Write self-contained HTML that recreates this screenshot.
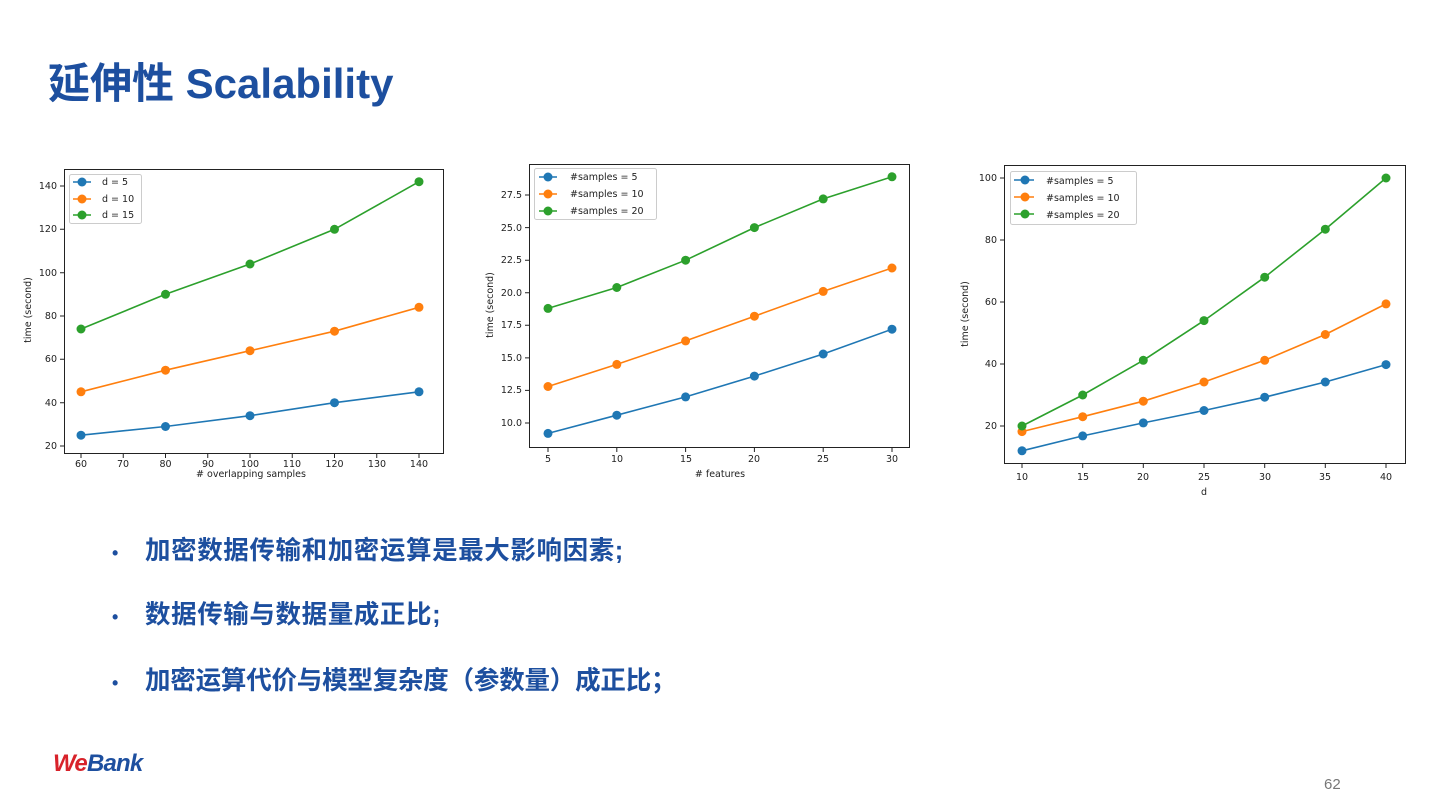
<!DOCTYPE html>
<html><head><meta charset="utf-8"><style>
body{margin:0;width:1440px;height:810px;background:#fff;overflow:hidden;font-family:"Liberation Sans","Noto Sans CJK SC",sans-serif;position:relative}
.t{position:absolute;left:48px;top:50px;font-size:42px;font-weight:bold;color:#1d4f9f}
.b{position:absolute;left:112px;font-size:25.5px;font-weight:bold;color:#1d4f9f;letter-spacing:0.6px}
.b span{display:inline-block;width:33px;font-size:18px;letter-spacing:0}
.pg{position:absolute;left:1324px;top:776px;font-size:15px;color:#777}
.logo{position:absolute;left:53px;top:750px;font-size:24px;font-weight:900;font-style:italic;letter-spacing:-0.8px}
</style></head><body>
<div class="t">延伸性 Scalability</div>
<div class="b" style="top:530px"><span>•</span>加密数据传输和加密运算是最大影响因素;</div>
<div class="b" style="top:594px"><span>•</span>数据传输与数据量成正比;</div>
<div class="b" style="top:660px;letter-spacing:-0.2px"><span>•</span>加密运算代价与模型复杂度（参数量）成正比；</div>
<div class="logo"><span style="color:#d8222a">We</span><span style="color:#1d4f9f">Bank</span></div>
<div class="pg">62</div>
<svg width="1440" height="810" style="position:absolute;left:0;top:0" font-family="DejaVu Sans, sans-serif" font-size="10" fill="#222">
<defs>
<marker id="mb" markerWidth="10" markerHeight="10" refX="5" refY="5" markerUnits="userSpaceOnUse"><circle cx="5" cy="5" r="4.5" fill="#1f77b4"/></marker>
<marker id="mo" markerWidth="10" markerHeight="10" refX="5" refY="5" markerUnits="userSpaceOnUse"><circle cx="5" cy="5" r="4.5" fill="#ff7f0e"/></marker>
<marker id="mg" markerWidth="10" markerHeight="10" refX="5" refY="5" markerUnits="userSpaceOnUse"><circle cx="5" cy="5" r="4.5" fill="#2ca02c"/></marker>
</defs>
<g fill="none" stroke-width="1.6">
<polyline stroke="#1f77b4" marker-start="url(#mb)" marker-mid="url(#mb)" marker-end="url(#mb)" points="81,435.2 165.5,426.5 250,415.7 334.5,402.7 419,391.8"/>
<polyline stroke="#ff7f0e" marker-start="url(#mo)" marker-mid="url(#mo)" marker-end="url(#mo)" points="81,391.8 165.5,370.2 250,350.7 334.5,331.2 419,307.3"/>
<polyline stroke="#2ca02c" marker-start="url(#mg)" marker-mid="url(#mg)" marker-end="url(#mg)" points="81,329 165.5,294.3 250,264 334.5,229.3 419,181.7"/>
<polyline stroke="#1f77b4" marker-start="url(#mb)" marker-mid="url(#mb)" marker-end="url(#mb)" points="548,433.4 616.8,415.2 685.6,396.9 754.4,376.1 823.2,354 892,329.2"/>
<polyline stroke="#ff7f0e" marker-start="url(#mo)" marker-mid="url(#mo)" marker-end="url(#mo)" points="548,386.5 616.8,364.4 685.6,340.9 754.4,316.2 823.2,291.4 892,268"/>
<polyline stroke="#2ca02c" marker-start="url(#mg)" marker-mid="url(#mg)" marker-end="url(#mg)" points="548,308.4 616.8,287.5 685.6,260.2 754.4,227.6 823.2,198.9 892,176.8"/>
<polyline stroke="#1f77b4" marker-start="url(#mb)" marker-mid="url(#mb)" marker-end="url(#mb)" points="1022,450.8 1082.7,435.9 1143.3,422.9 1204,410.5 1264.7,397.2 1325.3,382 1386,364.6"/>
<polyline stroke="#ff7f0e" marker-start="url(#mo)" marker-mid="url(#mo)" marker-end="url(#mo)" points="1022,431.6 1082.7,416.7 1143.3,401.2 1204,382 1264.7,360.3 1325.3,334.5 1386,303.9"/>
<polyline stroke="#2ca02c" marker-start="url(#mg)" marker-mid="url(#mg)" marker-end="url(#mg)" points="1022,426 1082.7,395 1143.3,360.3 1204,320.6 1264.7,277.2 1325.3,229.2 1386,178"/>
</g>
<g fill="none" stroke="#222" stroke-width="1">
<rect x="64.5" y="169.5" width="379" height="284"/>
<rect x="529.5" y="164.5" width="380" height="283"/>
<rect x="1004.5" y="165.5" width="401" height="298"/>
<path d="M81,454v4M123.25,454v4M165.5,454v4M207.75,454v4M250,454v4M292.25,454v4M334.5,454v4M376.75,454v4M419,454v4
M64,446h-4M64,402.7h-4M64,359.3h-4M64,316h-4M64,272.7h-4M64,229.3h-4M64,186h-4
M548,448v4M616.8,448v4M685.6,448v4M754.4,448v4M823.2,448v4M892,448v4
M529,423h-4M529,390.4h-4M529,357.9h-4M529,325.3h-4M529,292.7h-4M529,260.2h-4M529,227.6h-4M529,195h-4
M1022,464v4M1082.7,464v4M1143.3,464v4M1204,464v4M1264.7,464v4M1325.3,464v4M1386,464v4
M1004,426h-4M1004,364h-4M1004,302h-4M1004,240h-4M1004,178h-4"/>
</g>
<g text-anchor="middle" font-size="9.5">
<text x="81" y="467">60</text><text x="123" y="467">70</text><text x="165.5" y="467">80</text><text x="208" y="467">90</text><text x="250" y="467">100</text><text x="292" y="467">110</text><text x="334.5" y="467">120</text><text x="377" y="467">130</text><text x="419" y="467">140</text>
<text x="251" y="477"># overlapping samples</text>
<text x="548" y="462">5</text><text x="617" y="462">10</text><text x="686" y="462">15</text><text x="754" y="462">20</text><text x="823" y="462">25</text><text x="892" y="462">30</text>
<text x="720" y="477"># features</text>
<text x="1022" y="480">10</text><text x="1083" y="480">15</text><text x="1143" y="480">20</text><text x="1204" y="480">25</text><text x="1265" y="480">30</text><text x="1325" y="480">35</text><text x="1386" y="480">40</text>
<text x="1204" y="495">d</text>
</g>
<g text-anchor="end" font-size="9.5">
<text x="57" y="449">20</text><text x="57" y="406">40</text><text x="57" y="362">60</text><text x="57" y="319">80</text><text x="57" y="276">100</text><text x="57" y="232">120</text><text x="57" y="189">140</text>
<text x="522" y="426">10.0</text><text x="522" y="393">12.5</text><text x="522" y="361">15.0</text><text x="522" y="328">17.5</text><text x="522" y="296">20.0</text><text x="522" y="263">22.5</text><text x="522" y="231">25.0</text><text x="522" y="198">27.5</text>
<text x="997" y="429">20</text><text x="997" y="367">40</text><text x="997" y="305">60</text><text x="997" y="243">80</text><text x="997" y="181">100</text>
</g>
<text transform="translate(31,310) rotate(-90)" text-anchor="middle" font-size="9.5">time (second)</text>
<text transform="translate(493,305) rotate(-90)" text-anchor="middle" font-size="9.5">time (second)</text>
<text transform="translate(968,314) rotate(-90)" text-anchor="middle" font-size="9.5">time (second)</text>
<g font-size="9.5">
<rect x="69.5" y="174.5" width="72" height="49" rx="2" fill="#fff" stroke="#ccc"/>
<g stroke-width="1.6"><path d="M73,182h18" stroke="#1f77b4"/><path d="M73,199h18" stroke="#ff7f0e"/><path d="M73,215h18" stroke="#2ca02c"/></g>
<circle cx="82" cy="182" r="4.5" fill="#1f77b4"/><circle cx="82" cy="199" r="4.5" fill="#ff7f0e"/><circle cx="82" cy="215" r="4.5" fill="#2ca02c"/>
<text x="102" y="185">d = 5</text><text x="102" y="202">d = 10</text><text x="102" y="218">d = 15</text>
<rect x="534.5" y="168.5" width="122" height="51" rx="2" fill="#fff" stroke="#ccc"/>
<g stroke-width="1.6"><path d="M539,177h18" stroke="#1f77b4"/><path d="M539,194h18" stroke="#ff7f0e"/><path d="M539,211h18" stroke="#2ca02c"/></g>
<circle cx="548" cy="177" r="4.5" fill="#1f77b4"/><circle cx="548" cy="194" r="4.5" fill="#ff7f0e"/><circle cx="548" cy="211" r="4.5" fill="#2ca02c"/>
<text x="570" y="180">#samples = 5</text><text x="570" y="197">#samples = 10</text><text x="570" y="214">#samples = 20</text>
<rect x="1010.5" y="171.5" width="126" height="53" rx="2" fill="#fff" stroke="#ccc"/>
<g stroke-width="1.6"><path d="M1014,180h20" stroke="#1f77b4"/><path d="M1014,197h20" stroke="#ff7f0e"/><path d="M1014,214h20" stroke="#2ca02c"/></g>
<circle cx="1025" cy="180" r="4.5" fill="#1f77b4"/><circle cx="1025" cy="197" r="4.5" fill="#ff7f0e"/><circle cx="1025" cy="214" r="4.5" fill="#2ca02c"/>
<text x="1046" y="184">#samples = 5</text><text x="1046" y="201">#samples = 10</text><text x="1046" y="218">#samples = 20</text>
</g>
</svg>
</body></html>
